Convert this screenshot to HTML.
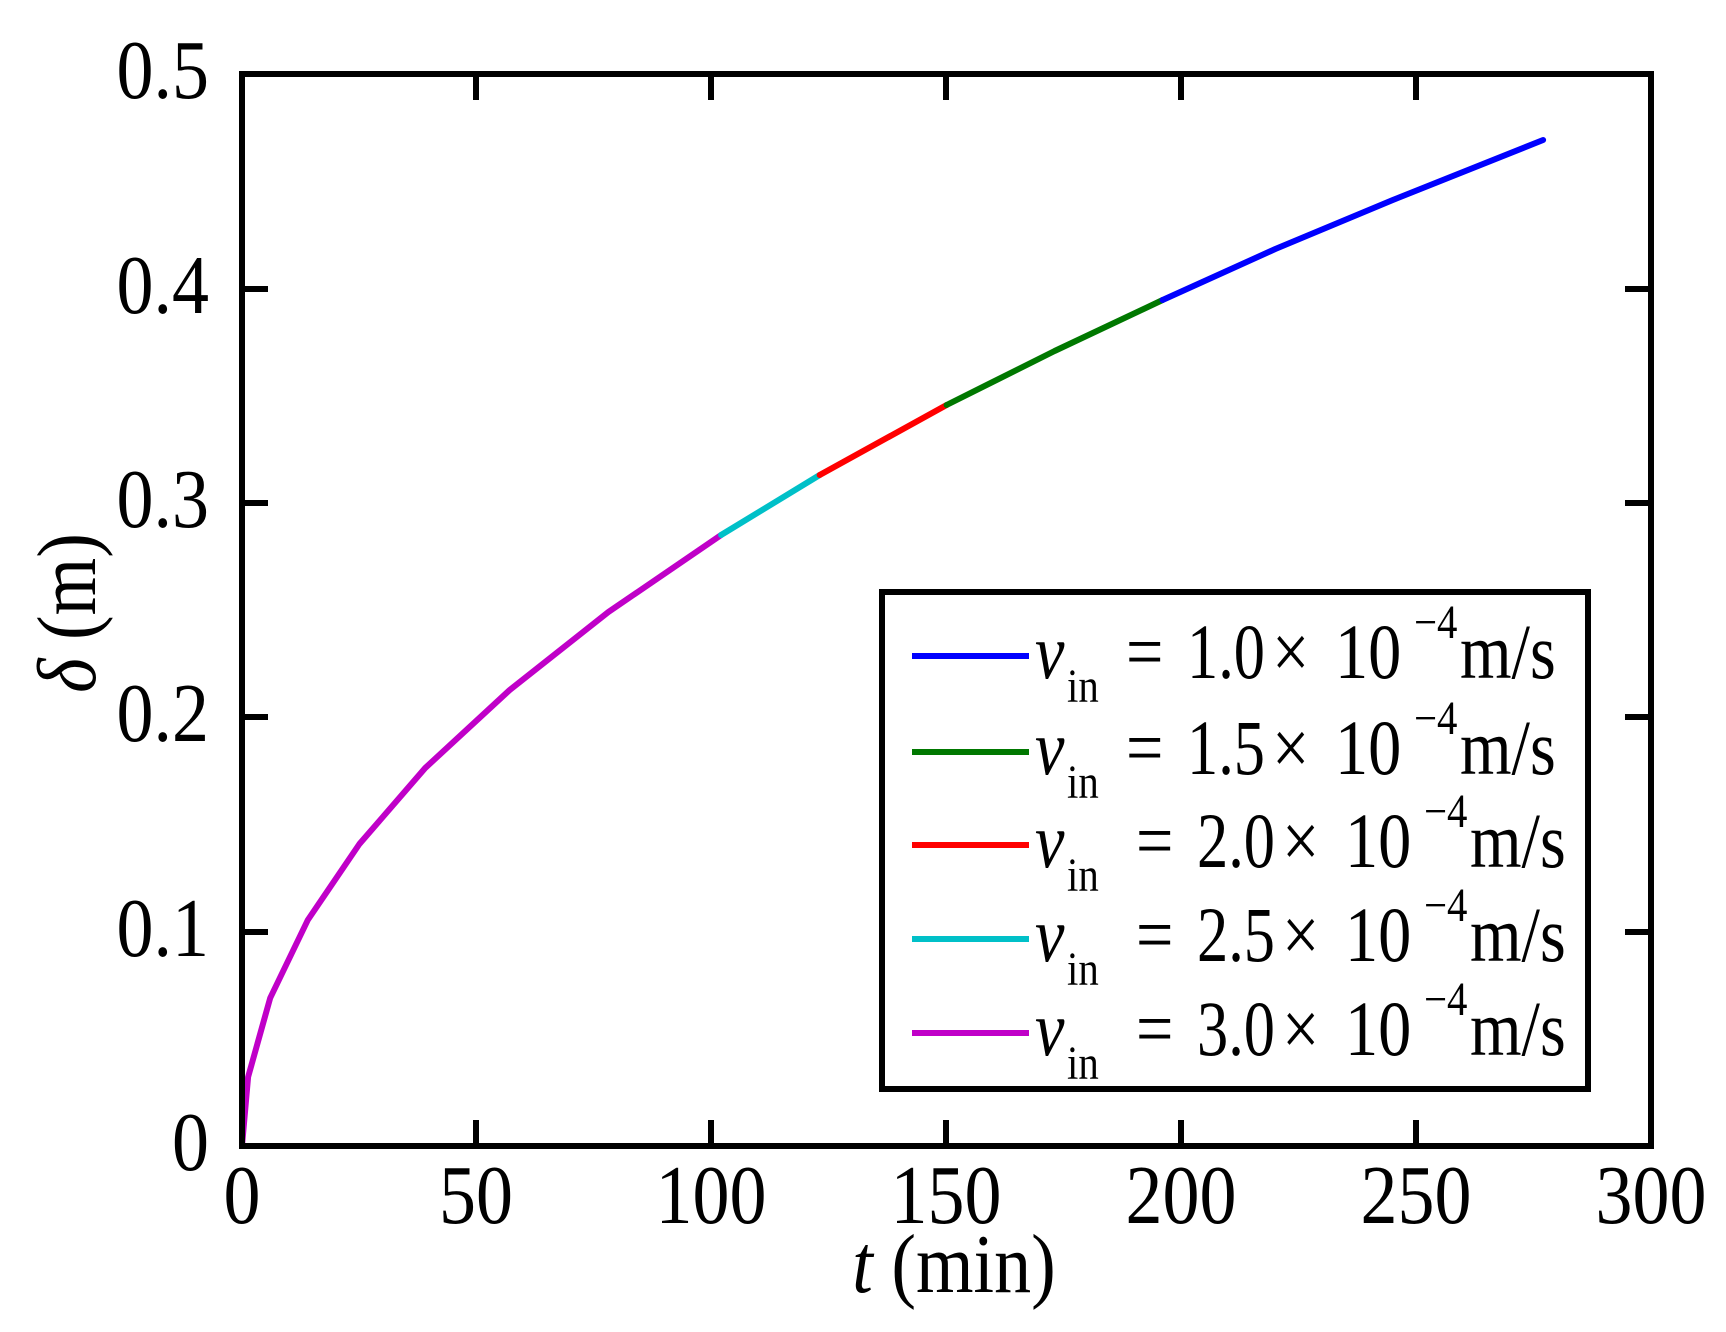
<!DOCTYPE html>
<html><head><meta charset="utf-8"><style>html,body{margin:0;padding:0;background:#fff}svg{display:block}</style></head>
<body>
<svg width="1726" height="1332" viewBox="0 0 1726 1332" xmlns="http://www.w3.org/2000/svg" font-family="Liberation Serif, serif">
<defs>
<g id="dummy"></g>
</defs>
<rect width="1726" height="1332" fill="#fff"/>
<g fill="none" stroke-width="6" stroke-linejoin="round" stroke-linecap="round">
<polyline stroke="#c000c8" points="242,1146 248.1,1077 270.2,998 307.8,920 359.4,844 425.2,768 509.7,690 608.4,612 721.1,535"/>
<polyline stroke="#00c0c8" points="721.1,535 819.7,475"/>
<polyline stroke="#ff0000" points="819.7,475 946.6,405"/>
<polyline stroke="#007800" points="946.6,405 1054.6,351 1162.6,300"/>
<polyline stroke="#0000ff" points="1162.6,300 1275.3,249 1392.8,200 1543.1,140"/>
</g>
<g stroke="#000" stroke-width="6" fill="none">
<rect x="242" y="74" width="1409" height="1072"/>
<path d="M476,1146v-26M711,1146v-26M946,1146v-26M1181,1146v-26M1416,1146v-26
M476,74v26M711,74v26M946,74v26M1181,74v26M1416,74v26
M242,932h26M242,717h26M242,503h26M242,289h26
M1651,932h-26M1651,717h-26M1651,503h-26M1651,289h-26"/>
</g>
<g font-size="74" fill="#000" text-anchor="end">
<text transform="translate(209,1170) scale(1,1.13)">0</text>
<text transform="translate(209,956) scale(1,1.13)">0.1</text>
<text transform="translate(209,741) scale(1,1.13)">0.2</text>
<text transform="translate(209,527) scale(1,1.13)">0.3</text>
<text transform="translate(209,313) scale(1,1.13)">0.4</text>
<text transform="translate(209,98) scale(1,1.13)">0.5</text>
</g>
<g font-size="74" fill="#000" text-anchor="middle">
<text transform="translate(242,1223) scale(1,1.13)">0</text>
<text transform="translate(476,1223) scale(1,1.13)">50</text>
<text transform="translate(711,1223) scale(1,1.13)">100</text>
<text transform="translate(946,1223) scale(1,1.13)">150</text>
<text transform="translate(1181,1223) scale(1,1.13)">200</text>
<text transform="translate(1416,1223) scale(1,1.13)">250</text>
<text transform="translate(1651,1223) scale(1,1.13)">300</text>
<text transform="translate(954,1292) scale(1,1.13)"><tspan font-style="italic">t</tspan> (min)</text>
<text transform="translate(95,613) rotate(-90) scale(1,1.13)"><tspan font-style="italic">δ</tspan> (m)</text>
</g>
<rect x="882" y="592" width="706" height="497" fill="#fff" stroke="#000" stroke-width="6"/>
<g stroke-width="6">
<line x1="912" y1="656" x2="1029" y2="656" stroke="#0000ff"/>
<line x1="912" y1="752" x2="1029" y2="752" stroke="#007800"/>
<line x1="912" y1="845" x2="1029" y2="845" stroke="#ff0000"/>
<line x1="912" y1="939" x2="1029" y2="939" stroke="#00c0c8"/>
<line x1="912" y1="1033" x2="1029" y2="1033" stroke="#c000c8"/>
</g>
<g font-size="78" fill="#000">
<g transform="translate(0,678)">
<text transform="translate(1035,0) scale(0.85,1)" font-style="italic">v</text><text transform="translate(1067,24) scale(0.85,1)" font-size="48">in</text>
<text transform="translate(1126,0) scale(0.85,1)">=</text><text transform="translate(1187,0) scale(0.8,1)">1.0</text>
<text transform="translate(1272,0) scale(0.85,1)">×</text><text transform="translate(1335,0) scale(0.85,1)">10</text>
<text transform="translate(1414,-40) scale(0.85,1)" font-size="48">−4</text><text transform="translate(1460,0) scale(0.85,1)">m/s</text></g>
<g transform="translate(0,774)">
<text transform="translate(1035,0) scale(0.85,1)" font-style="italic">v</text><text transform="translate(1067,24) scale(0.85,1)" font-size="48">in</text>
<text transform="translate(1126,0) scale(0.85,1)">=</text><text transform="translate(1187,0) scale(0.8,1)">1.5</text>
<text transform="translate(1272,0) scale(0.85,1)">×</text><text transform="translate(1335,0) scale(0.85,1)">10</text>
<text transform="translate(1414,-40) scale(0.85,1)" font-size="48">−4</text><text transform="translate(1460,0) scale(0.85,1)">m/s</text></g>
<g transform="translate(0,867)">
<text transform="translate(1035,0) scale(0.85,1)" font-style="italic">v</text><text transform="translate(1067,24) scale(0.85,1)" font-size="48">in</text>
<text transform="translate(1136,0) scale(0.85,1)">=</text><text transform="translate(1197,0) scale(0.8,1)">2.0</text>
<text transform="translate(1282,0) scale(0.85,1)">×</text><text transform="translate(1345,0) scale(0.85,1)">10</text>
<text transform="translate(1424,-40) scale(0.85,1)" font-size="48">−4</text><text transform="translate(1470,0) scale(0.85,1)">m/s</text></g>
<g transform="translate(0,961)">
<text transform="translate(1035,0) scale(0.85,1)" font-style="italic">v</text><text transform="translate(1067,24) scale(0.85,1)" font-size="48">in</text>
<text transform="translate(1136,0) scale(0.85,1)">=</text><text transform="translate(1197,0) scale(0.8,1)">2.5</text>
<text transform="translate(1282,0) scale(0.85,1)">×</text><text transform="translate(1345,0) scale(0.85,1)">10</text>
<text transform="translate(1424,-40) scale(0.85,1)" font-size="48">−4</text><text transform="translate(1470,0) scale(0.85,1)">m/s</text></g>
<g transform="translate(0,1055)">
<text transform="translate(1035,0) scale(0.85,1)" font-style="italic">v</text><text transform="translate(1067,24) scale(0.85,1)" font-size="48">in</text>
<text transform="translate(1136,0) scale(0.85,1)">=</text><text transform="translate(1197,0) scale(0.8,1)">3.0</text>
<text transform="translate(1282,0) scale(0.85,1)">×</text><text transform="translate(1345,0) scale(0.85,1)">10</text>
<text transform="translate(1424,-40) scale(0.85,1)" font-size="48">−4</text><text transform="translate(1470,0) scale(0.85,1)">m/s</text></g>
</g>
</svg>
</body></html>
